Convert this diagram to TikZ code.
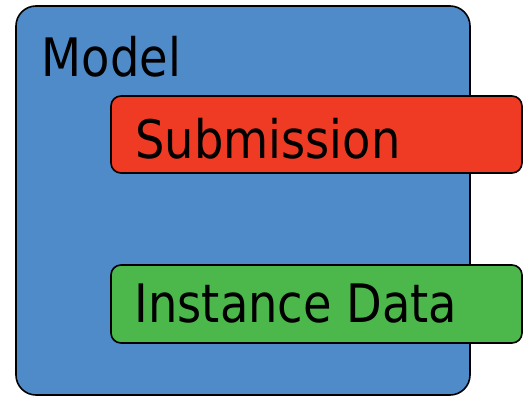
\documentclass[tikz,border=0pt]{standalone}
\usepackage{fontspec}
\setmainfont[FakeStretch=0.875]{DejaVu Sans}
\begin{document}
\begin{tikzpicture}[x=1pt,y=-1pt,
  panel/.style={draw=black, line width=1.6pt, anchor=north west, inner sep=0pt, outer sep=0pt},
  lbl/.style={anchor=base west, inner sep=0pt, font=\fontsize{53}{60}\selectfont, text=black}]
\definecolor{modelblue}{RGB}{79,139,200}
\definecolor{subred}{RGB}{239,58,36}
\definecolor{instgreen}{RGB}{76,184,76}
\useasboundingbox (0,0) rectangle (523,396);
\node[panel, fill=modelblue, rounded corners=20pt, minimum width=454pt, minimum height=389pt] (model) at (16,6) {};
\node[panel, fill=subred, rounded corners=10pt, minimum width=411pt, minimum height=77pt] (sub) at (111,96) {};
\node[panel, fill=instgreen, rounded corners=10pt, minimum width=411pt, minimum height=78pt] (inst) at (111,265) {};
\node[lbl] (modellbl) at (41.5,77) {Model};
\node[lbl] (sublbl) at (135,158) {Submission};
\node[lbl] (instlbl) at (134.5,322) {Instance Data};
\end{tikzpicture}
\end{document}
